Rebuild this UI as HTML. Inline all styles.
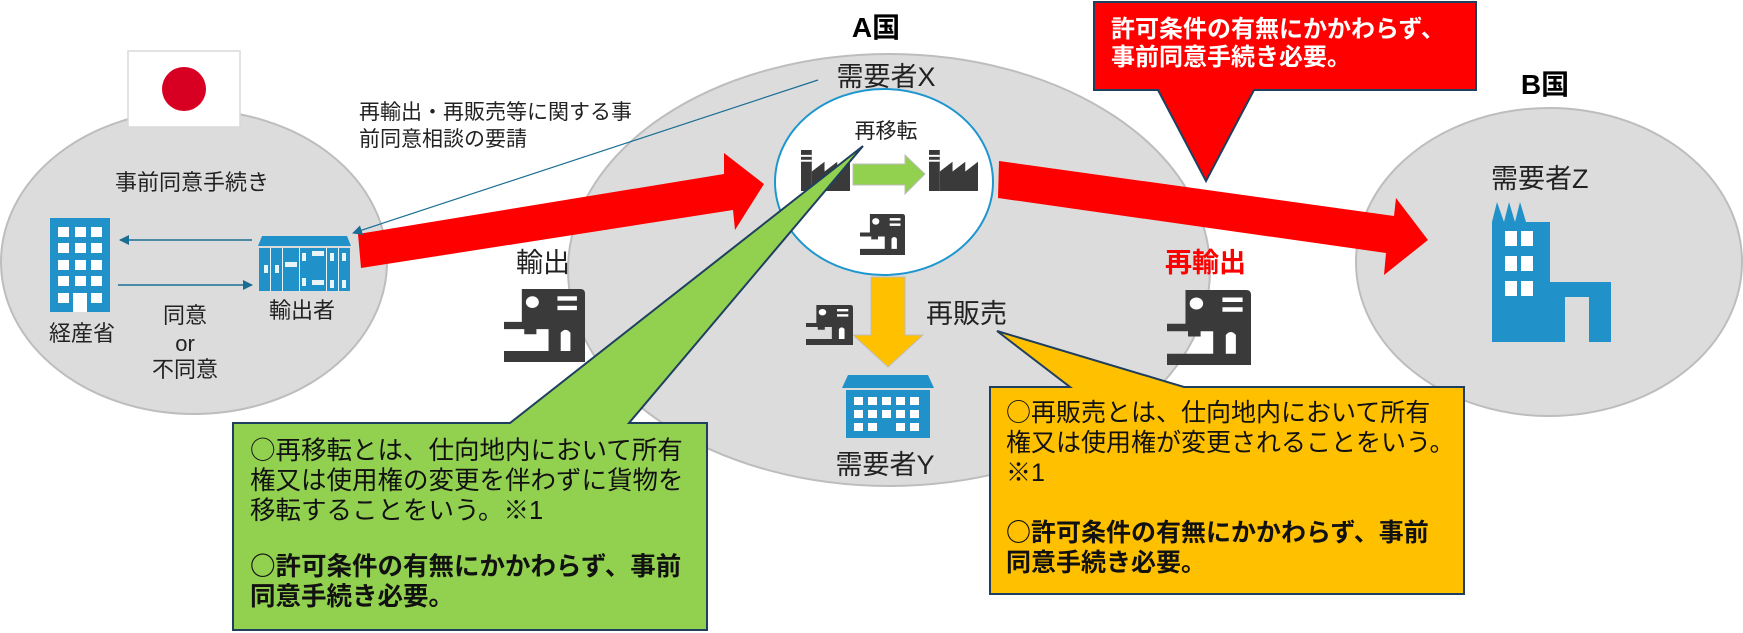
<!DOCTYPE html>
<html><head><meta charset="utf-8"><style>
html,body{margin:0;padding:0;background:#fff;}
svg{display:block;font-family:"Liberation Sans","Noto Sans CJK JP",sans-serif;}
.c{font-family:"Noto Sans CJK JP",sans-serif;}
</style></head><body>
<svg width="1743" height="633" viewBox="0 0 1743 633" xmlns="http://www.w3.org/2000/svg">
<defs>
<symbol id="mach" viewBox="0 0 100 100" preserveAspectRatio="none">
<path d="M22 0 H94 Q100 0 100 6 V100 H0 V85 H55 V55 H40 V62 H25 V55 H0 V45 H22 Z" fill="#3a3a3a"/>
<circle cx="35" cy="18" r="8" fill="#fff"/>
<rect x="66" y="10" width="24" height="6" fill="#fff"/>
<rect x="66" y="23" width="24" height="6" fill="#fff"/>
<path d="M70 85 V60 Q76 52 82 60 V85 Z" fill="#fff"/>
</symbol>
<symbol id="fact" viewBox="0 0 50 42" preserveAspectRatio="none">
<rect x="0" y="0" width="11" height="42" fill="#3a3a3a"/>
<rect x="0" y="5" width="11" height="2" fill="#fff"/>
<rect x="0" y="10" width="11" height="2" fill="#fff"/>
<path d="M11 42 V22 L24 12 V22 L37 12 V22 L50 12 V42 Z" fill="#3a3a3a"/>
</symbol>
<marker id="ah" markerWidth="10" markerHeight="10" refX="9" refY="5" orient="auto" markerUnits="userSpaceOnUse" viewBox="0 0 10 10"><path d="M0 0 L10 5 L0 10 Z" fill="#1a6e94"/></marker>
</defs>

<ellipse cx="194" cy="262" rx="193" ry="152" fill="#dcdcdc" stroke="#bdbdbd" stroke-width="2"/>
<ellipse cx="889" cy="270" rx="321" ry="216" fill="#dcdcdc" stroke="#bdbdbd" stroke-width="2"/>
<ellipse cx="1549" cy="262" rx="193" ry="154" fill="#dcdcdc" stroke="#bdbdbd" stroke-width="2"/>

<rect x="128" y="51" width="112" height="76" fill="#fff" stroke="#dadada" stroke-width="1.5"/>
<circle cx="184" cy="89" r="22" fill="#d70022"/>

<polygon points="358,234 724,174 724,153 764,184 735,230 733,210 361,268" fill="#ff0000"/>
<polygon points="999,161 1394,216 1396,198 1428,240 1384,275 1386,253 998,198" fill="#ff0000"/>

<ellipse cx="884" cy="182" rx="109" ry="93" fill="#fff" stroke="#1e96cf" stroke-width="2"/>

<use href="#fact" x="801" y="150" width="49" height="41"/>
<use href="#fact" x="929" y="150" width="49" height="41"/>
<polygon points="853,164 905,164 905,155 925,174 905,194 905,185 853,185" fill="#92d050" stroke="#bdbdbd" stroke-width="1"/>
<use href="#mach" x="860" y="214" width="45" height="41"/>

<polygon points="871,277 905,277 905,335 923,335 888,367 853,335 871,335" fill="#ffc000" stroke="#bdbdbd" stroke-width="1"/>
<use href="#mach" x="806" y="305" width="47" height="40"/>

<polygon points="848,375 928,375 934,388 842,388" fill="#2191c9"/>
<rect x="846" y="390" width="84" height="48" fill="#2191c9"/>
<g fill="#fff">
<rect x="854" y="397" width="9" height="8"/><rect x="868" y="397" width="9" height="8"/><rect x="882" y="397" width="9" height="8"/><rect x="896" y="397" width="9" height="8"/><rect x="910" y="397" width="9" height="8"/>
<rect x="854" y="410" width="9" height="8"/><rect x="868" y="410" width="9" height="8"/><rect x="882" y="410" width="9" height="8"/><rect x="896" y="410" width="9" height="8"/><rect x="910" y="410" width="9" height="8"/>
<rect x="854" y="423" width="9" height="8"/><rect x="868" y="423" width="9" height="8"/><rect x="896" y="423" width="9" height="8"/><rect x="910" y="423" width="9" height="8"/>
</g>

<use href="#mach" x="504" y="289" width="81" height="73"/>
<use href="#mach" x="1167" y="290" width="84" height="75"/>

<path d="M1492 342 V222 L1497 202 L1504 222 L1509 202 L1515 222 L1520 202 L1526 222 H1550 V282 H1611 V342 H1589 V297 H1565 V342 Z" fill="#2191c9"/>
<g fill="#fff">
<rect x="1505" y="231" width="12" height="15"/><rect x="1521" y="231" width="12" height="15"/>
<rect x="1505" y="256" width="12" height="15"/><rect x="1521" y="256" width="12" height="15"/>
<rect x="1505" y="281" width="12" height="15"/><rect x="1521" y="281" width="12" height="15"/>
</g>

<rect x="50" y="218" width="60" height="94" fill="#2191c9"/>
<g fill="#fff">
<rect x="58" y="227" width="11" height="10"/><rect x="75" y="227" width="11" height="10"/><rect x="91" y="227" width="11" height="10"/>
<rect x="58" y="243" width="11" height="10"/><rect x="75" y="243" width="11" height="10"/><rect x="91" y="243" width="11" height="10"/>
<rect x="58" y="260" width="11" height="10"/><rect x="75" y="260" width="11" height="10"/><rect x="91" y="260" width="11" height="10"/>
<rect x="58" y="276" width="11" height="10"/><rect x="75" y="276" width="11" height="10"/><rect x="91" y="276" width="11" height="10"/>
<rect x="58" y="293" width="11" height="10"/><rect x="91" y="293" width="11" height="10"/>
<rect x="73" y="293" width="14" height="19"/>
</g>

<polygon points="262,236 347,236 351,246 258,246" fill="#2191c9"/>
<rect x="259" y="248" width="91" height="43" fill="#2191c9"/>
<g fill="#fff" opacity="0.9">
<rect x="270" y="248" width="1" height="43"/><rect x="282" y="248" width="1" height="43"/><rect x="299" y="248" width="1" height="43"/><rect x="326" y="248" width="1" height="43"/><rect x="338" y="248" width="1" height="43"/>
<rect x="264" y="265" width="4" height="8"/><rect x="275" y="265" width="4" height="8"/>
<rect x="285" y="262" width="12" height="5"/><rect x="302" y="253" width="4" height="8"/><rect x="302" y="278" width="4" height="8"/>
<rect x="312" y="251" width="12" height="5"/><rect x="312" y="280" width="12" height="5"/>
<rect x="330" y="253" width="4" height="8"/><rect x="342" y="253" width="4" height="8"/><rect x="330" y="280" width="4" height="8"/><rect x="342" y="280" width="4" height="8"/>
</g>

<line x1="252" y1="240" x2="120" y2="240" stroke="#1a6e94" stroke-width="1.5" marker-end="url(#ah)"/>
<line x1="118" y1="285" x2="252" y2="285" stroke="#1a6e94" stroke-width="1.5" marker-end="url(#ah)"/>
<line x1="818" y1="80" x2="353" y2="233" stroke="#1a6e94" stroke-width="1.2" marker-end="url(#ah)"/>

<g fill="#222">
<text x="876" y="37" font-size="28" font-weight="bold" text-anchor="middle" fill="#000">A国</text>
<text x="1545" y="94" font-size="28" font-weight="bold" text-anchor="middle" fill="#000">B国</text>
<text x="886" y="86" font-size="27" text-anchor="middle">需要者X</text>
<text x="886" y="138" font-size="21" text-anchor="middle">再移転</text>
<text x="926" y="323" font-size="27">再販売</text>
<text x="885" y="474" font-size="27" text-anchor="middle">需要者Y</text>
<text x="516" y="272" font-size="27">輸出</text>
<text x="1165" y="272" font-size="27" font-weight="bold" fill="#ff0000">再輸出</text>
<text x="1491" y="188" font-size="27">需要者Z</text>
<text x="115" y="190" font-size="22">事前同意手続き</text>
<text x="269" y="318" font-size="22">輸出者</text>
<text x="49" y="341" font-size="22">経産省</text>
<text x="185" y="323" font-size="22" text-anchor="middle">同意</text>
<text x="185" y="351" font-size="22" text-anchor="middle">or</text>
<text x="185" y="377" font-size="22" text-anchor="middle">不同意</text>
<text x="359" y="119" font-size="21">再輸出・再販売等に関する事</text>
<text x="359" y="146" font-size="21">前同意相談の要請</text>
</g>

<path d="M1094,2 L1476,2 L1476,90 L1254,90 L1206,181 L1158,90 L1094,90 Z" fill="#ff0000" stroke="#1f3f5f" stroke-width="2"/>
<g fill="#fff" font-size="24" font-weight="bold">
<text x="1111" y="37">許可条件の有無にかかわらず、</text>
<text x="1111" y="65">事前同意手続き必要。</text>
</g>

<path d="M233,423 L510,423 L863,146 L629,423 L707,423 L707,630 L233,630 Z" fill="#92d050" stroke="#1f3f5f" stroke-width="2"/>
<g fill="#111" font-size="25.5">
<text x="250" y="459"><tspan class="c">○</tspan>再移転とは、仕向地内において所有</text>
<text x="250" y="489">権又は使用権の変更を伴わずに貨物を</text>
<text x="250" y="519">移転することをいう。※1</text>
<text x="250" y="575" font-weight="bold"><tspan class="c">○</tspan>許可条件の有無にかかわらず、事前</text>
<text x="250" y="605" font-weight="bold">同意手続き必要。</text>
</g>

<path d="M990,387 L1070,387 L997,331 L1184,387 L1464,387 L1464,594 L990,594 Z" fill="#ffc000" stroke="#1f3f5f" stroke-width="2"/>
<g fill="#111" font-size="25">
<text x="1006" y="421"><tspan class="c">○</tspan>再販売とは、仕向地内において所有</text>
<text x="1006" y="451">権又は使用権が変更されることをいう。</text>
<text x="1006" y="481">※1</text>
<text x="1006" y="541" font-weight="bold"><tspan class="c">○</tspan>許可条件の有無にかかわらず、事前</text>
<text x="1006" y="571" font-weight="bold">同意手続き必要。</text>
</g>
</svg>
</body></html>
